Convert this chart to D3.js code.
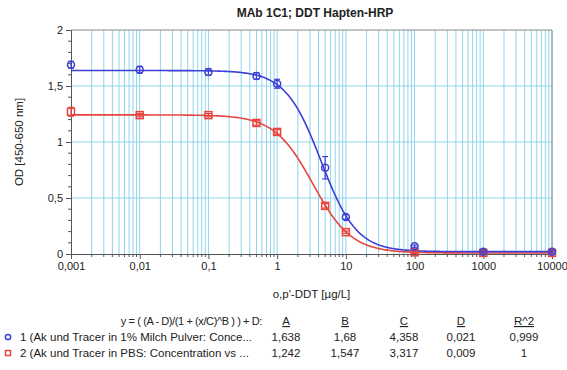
<!DOCTYPE html>
<html><head><meta charset="utf-8">
<script src="https://cdn.jsdelivr.net/npm/d3@7"></script>
<style>body{margin:0;background:#fff}svg{font-family:"Liberation Sans",Arial,sans-serif}</style>
</head><body><svg id="c" width="567" height="370"></svg>
<script>
const title = "MAb 1C1; DDT Hapten-HRP";
const xLabel = "o,p'-DDT [µg/L]";
const yLabel = "OD [450-650 nm]";
const xTicks = [0.001, 0.01, 0.1, 1, 10, 100, 1000, 10000];
const xTickLabels = ["0,001", "0,01", "0,1", "1", "10", "100", "1000", "10000"];
const yTicks = [0, 0.5, 1, 1.5, 2];
const yTickLabels = ["0", "0,5", "1", "1,5", "2"];
const conc = [0.001, 0.01, 0.1, 0.5, 1, 5, 10, 100, 1000, 10000];
const blueOD = [1.69, 1.645, 1.625, 1.59, 1.52, 0.77, 0.33, 0.07, 0.02, 0.02];
const blueErr = [0.03, 0.03, 0.03, 0.03, 0.04, 0.1, 0.02, 0.01, 0.01, 0.01];
const redOD = [1.27, 1.24, 1.24, 1.17, 1.09, 0.43, 0.195, 0.015, 0.01, 0.01];
const redErr = [0.04, 0.015, 0.015, 0.02, 0.02, 0.02, 0.01, 0.01, 0.01, 0.01];
const seriesNames = ["1 (Ak und Tracer in 1% Milch Pulver: Conce...", "2 (Ak und Tracer in PBS: Concentration vs ..."];
const formula = "y = ( (A - D)/(1 + (x/C)^B ) ) + D:";
const paramHeads = ["A", "B", "C", "D", "R^2"];
const blueParams = [1.638, 1.68, 4.358, 0.021, 0.999];
const redParams = [1.242, 1.547, 3.317, 0.009, 1];
const blueParamLabels = ["1,638", "1,68", "4,358", "0,021", "0,999"];
const redParamLabels = ["1,242", "1,547", "3,317", "0,009", "1"];

const svg = d3.select("#c");
const L = 71, R = 552, T = 30, B = 254;
const x = d3.scaleLog().domain([0.001, 10000]).range([L, R]);
const y = d3.scaleLinear().domain([0, 2]).range([B, T]);
const grid = "#8fd5ec", blue = "#3b3fd4", red = "#e8453f", axisC = "#555";

// vertical grid (minor + major)
const vgrid = [];
for (let e = -3; e < 4; e++) for (let m = 1; m < 10; m++) vgrid.push(m * Math.pow(10, e));
vgrid.push(10000);
svg.append("g").selectAll("line").data(vgrid.filter(v => v > 0.001)).join("line")
  .attr("x1", d => x(d)).attr("x2", d => x(d)).attr("y1", T).attr("y2", B)
  .attr("stroke", grid).attr("stroke-width", 1);
svg.append("g").selectAll("line").data([0.5, 1, 1.5]).join("line")
  .attr("x1", L).attr("x2", R).attr("y1", d => y(d)).attr("y2", d => y(d))
  .attr("stroke", grid).attr("stroke-width", 1);
// frame top/right
svg.append("path").attr("d", `M${L},${T}H${R}V${B}`).attr("fill", "none").attr("stroke", "#888").attr("stroke-width", 1);

// axes
const xAxis = d3.axisBottom(x).tickValues(xTicks).tickFormat((d, i) => xTickLabels[i]).tickSize(5).tickPadding(3);
const gx = svg.append("g").attr("transform", `translate(0,${B})`).call(xAxis);
gx.selectAll(".tick line").attr("stroke", axisC);
const xMinor = vgrid.filter(v => xTicks.indexOf(v) < 0 && v > 0.001);
gx.append("g").selectAll("line").data(xMinor).join("line")
  .attr("x1", d => x(d)).attr("x2", d => x(d)).attr("y1", 0).attr("y2", 3).attr("stroke", axisC);
const yAxis = d3.axisLeft(y).tickValues(yTicks).tickFormat((d, i) => yTickLabels[i]).tickSize(5).tickPadding(3);
const gy = svg.append("g").attr("transform", `translate(${L},0)`).call(yAxis);
gy.selectAll(".tick line").attr("stroke", axisC);
gy.append("g").selectAll("line").data(d3.range(0.1, 2, 0.1).filter(v => Math.abs(v * 2 - Math.round(v * 2)) > 0.01)).join("line")
  .attr("x1", -3).attr("x2", 0).attr("y1", d => y(d)).attr("y2", d => y(d)).attr("stroke", axisC);
[gx, gy].forEach(g => {
  g.select(".domain").attr("stroke", axisC);
  g.selectAll("text").attr("font-size", 11).attr("fill", "#222").attr("font-family", "Liberation Sans, Arial, sans-serif");
});

// fitted curves
function fit(p) { return xv => (p[0] - p[3]) / (1 + Math.pow(xv / p[2], p[1])) + p[3]; }
const xs = d3.range(-3, 4.0001, 0.02).map(e => Math.pow(10, e));
const line = d3.line().x(d => x(d[0])).y(d => y(d[1]));
[[redParams, red], [blueParams, blue]].forEach(([p, c]) => {
  const f = fit(p);
  svg.append("path").datum(xs.map(v => [v, f(v)])).attr("d", line)
    .attr("fill", "none").attr("stroke", c).attr("stroke-width", 1.6);
});

// error bars and markers
function errBars(vals, errs, c) {
  const g = svg.append("g").attr("stroke", c).attr("stroke-width", 1.2);
  conc.forEach((cx, i) => {
    const X = x(cx), y1 = y(vals[i] + errs[i]), y2 = y(vals[i] - errs[i]);
    g.append("line").attr("x1", X).attr("x2", X).attr("y1", y1).attr("y2", y2);
    g.append("line").attr("x1", X - 3).attr("x2", X + 3).attr("y1", y1).attr("y2", y1);
    g.append("line").attr("x1", X - 3).attr("x2", X + 3).attr("y1", y2).attr("y2", y2);
  });
}
errBars(redOD, redErr, red);
errBars(blueOD, blueErr, blue);
svg.append("g").selectAll("rect").data(conc.map((c, i) => [c, redOD[i]])).join("rect")
  .attr("x", d => x(d[0]) - 3.5).attr("y", d => y(d[1]) - 3.5).attr("width", 7).attr("height", 7)
  .attr("fill", "none").attr("stroke", red).attr("stroke-width", 1.5);
svg.append("g").selectAll("circle").data(conc.map((c, i) => [c, blueOD[i]])).join("circle")
  .attr("cx", d => x(d[0])).attr("cy", d => y(d[1])).attr("r", 3.5)
  .attr("fill", "none").attr("stroke", blue).attr("stroke-width", 1.5);

// titles
svg.append("text").attr("x", 315).attr("y", 17).attr("text-anchor", "middle")
  .attr("font-size", 12).attr("font-weight", "bold").attr("fill", "#222").text(title);
svg.append("text").attr("x", (L + R) / 2).attr("y", 298).attr("text-anchor", "middle")
  .attr("font-size", 11.5).attr("fill", "#222").text(xLabel);
svg.append("text").attr("transform", `translate(23,${(T + B) / 2}) rotate(-90)`).attr("text-anchor", "middle")
  .attr("font-size", 11.5).attr("fill", "#222").text(yLabel);

// legend table
const colX = [286, 345, 404, 461, 524];
const fs = 11.5;
svg.append("text").attr("x", 262).attr("y", 325).attr("text-anchor", "end").attr("font-size", 11)
  .attr("letter-spacing", "-0.4px").attr("fill", "#222").text(formula);
paramHeads.forEach((h, i) => {
  svg.append("text").attr("x", colX[i]).attr("y", 325).attr("text-anchor", "middle")
    .attr("font-size", fs).attr("fill", "#222").attr("text-decoration", "underline").text(h);
});
[[seriesNames[0], blueParamLabels, blue, 341], [seriesNames[1], redParamLabels, red, 357]].forEach(([name, labs, c, yy], k) => {
  if (k === 0) svg.append("circle").attr("cx", 8).attr("cy", yy - 4).attr("r", 2.6).attr("fill", "none").attr("stroke", c).attr("stroke-width", 1.5);
  else svg.append("rect").attr("x", 5.5).attr("y", yy - 6.5).attr("width", 5).attr("height", 5).attr("fill", "none").attr("stroke", c).attr("stroke-width", 1.5);
  svg.append("text").attr("x", 20).attr("y", yy).attr("font-size", fs).attr("fill", "#222").text(name);
  labs.forEach((l, i) => svg.append("text").attr("x", colX[i]).attr("y", yy).attr("text-anchor", "middle")
    .attr("font-size", fs).attr("fill", "#222").text(l));
});
</script></body></html>
